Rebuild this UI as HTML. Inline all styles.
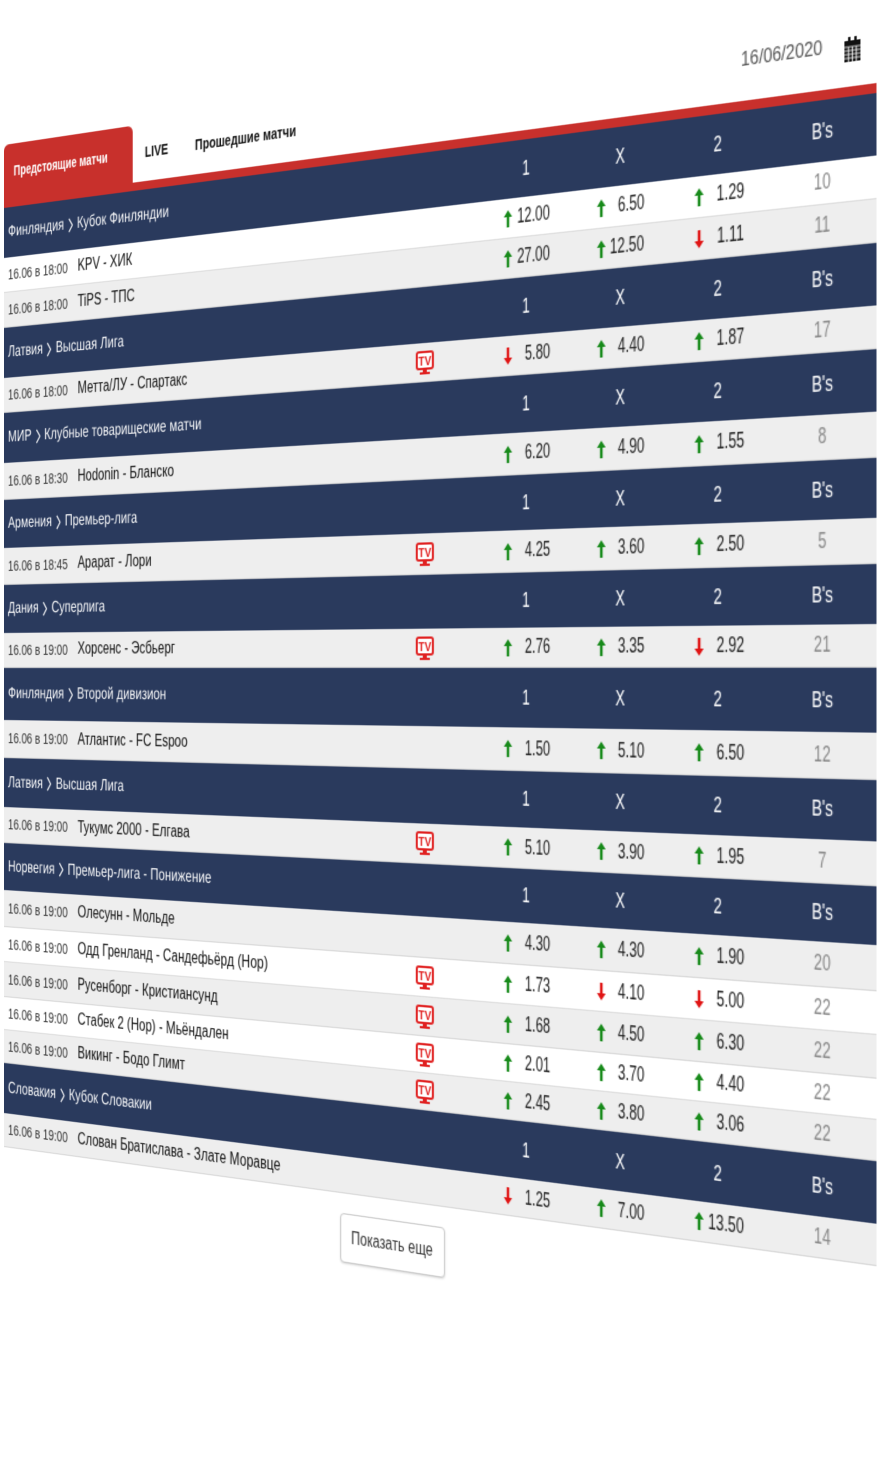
<!DOCTYPE html>
<html><head><meta charset="utf-8">
<style>
html,body{margin:0;padding:0;background:#fff;width:885px;height:1356px;overflow:hidden;}
#stage{position:absolute;left:0;top:0;width:872px;height:1300px;transform-origin:0 0;
transform:matrix3d(0.8,-0.1532,0,-0.000229, 0,1,0,0, 0,0,1,0, 4,0,0,1);
font-family:"Liberation Sans","DejaVu Sans",sans-serif;}
.r{position:absolute;left:0;width:872px;}
.h{background:#2a3a5d;color:#fff;}
.w{background:#fff;border-bottom:1px solid #dcdcdc;box-sizing:border-box;}
.g{background:#eeeeee;border-bottom:1px solid #d6d6d6;box-sizing:border-box;}
.r>*{position:absolute;top:0;height:100%;display:flex;align-items:center;white-space:nowrap;}
.t{left:5px;font-size:15px;color:#333;transform:scaleX(.8);transform-origin:left center;}
.n{left:90px;font-size:16px;color:#111;transform:scaleX(.83);transform-origin:left center;}
.lg{left:5px;font-size:16px;color:#fff;transform:scaleX(.82);transform-origin:left center;}
.lg svg{margin:0 6px 0 6px;}
.o{font-size:19px;color:#222;transform:scaleX(.65);transform-origin:right center;font-style:normal;font-weight:normal;}
.o1{right:282px}.o2{right:196px}.o3{right:109px}
.a{width:8px;}
.a1{left:546px}.a2{left:633px}.a3{left:720px}
.bs{left:798px;width:60px;justify-content:center;font-size:19px;color:#888;font-style:normal;transform:scaleX(.65);}
.hd{font-size:18px;color:#fff;width:40px;justify-content:center;transform:scaleX(.72);}
.h1{left:547px}.h2{left:634px}.h3{left:720px}.h4{left:808px}
.tv{left:460px;}
</style></head><body>
<div id="stage">
  <div style="position:absolute;left:760px;top:156px;font-size:17px;color:#555;white-space:nowrap;transform:scaleX(.8);transform-origin:left center;">16/06/2020</div>
  <svg style="position:absolute;left:846px;top:160px" width="13" height="20" viewBox="0 0 13 20">
    <rect x="0" y="3" width="13" height="17" fill="#111"/>
    <rect x="3" y="0" width="2" height="4" fill="#111"/><rect x="8" y="0" width="2" height="4" fill="#111"/>
    <g stroke="#fff" stroke-width="0.8"><line x1="0" y1="8" x2="13" y2="8"/><line x1="0" y1="11" x2="13" y2="11"/><line x1="0" y1="14" x2="13" y2="14"/><line x1="0" y1="17" x2="13" y2="17"/><line x1="3.3" y1="8" x2="3.3" y2="20"/><line x1="6.5" y1="8" x2="6.5" y2="20"/><line x1="9.7" y1="8" x2="9.7" y2="20"/></g>
  </svg>
  <div style="position:absolute;left:0;top:145px;width:155px;height:63px;background:#c8302c;border-radius:6px 6px 0 0;"></div>
  <div style="position:absolute;left:12px;top:164px;font-size:15px;font-weight:bold;color:#fff;white-space:nowrap;transform:scaleX(.76);transform-origin:left center;">Предстоящие матчи</div>
  <div style="position:absolute;left:169px;top:164px;font-size:15px;font-weight:bold;color:#111;transform:scaleX(.8);transform-origin:left center;">LIVE</div>
  <div style="position:absolute;left:226px;top:164px;font-size:15px;font-weight:bold;color:#111;white-space:nowrap;transform:scaleX(.8);transform-origin:left center;">Прошедшие матчи</div>
  <div style="position:absolute;left:0;top:200px;width:872px;height:8px;background:#c8302c;"></div>

  <div id="rows"></div>

  <div style="position:absolute;left:383px;top:1165px;width:106px;height:45px;border:1px solid #c8c8c8;border-radius:4px;box-sizing:border-box;background:#fff;display:flex;align-items:center;justify-content:center;font-size:16px;color:#333;box-shadow:0 1px 2px rgba(0,0,0,.15);">
    <span style="transform:scaleX(.8);white-space:nowrap;">Показать еще</span></div>
</div>

<script>
var UP='<svg width="8" height="15" viewBox="0 0 8 15"><polygon points="4,0 8,6 5.2,6 5.2,15 2.8,15 2.8,6 0,6" fill="#178a1a"/></svg>';
var DN='<svg width="8" height="15" viewBox="0 0 8 15"><polygon points="4,15 8,9 5.2,9 5.2,0 2.8,0 2.8,9 0,9" fill="#e01414"/></svg>';
var TV='<svg width="18" height="21" viewBox="0 0 18 21"><rect x="1" y="1" width="16" height="15" rx="2" fill="#fff" stroke="#e02020" stroke-width="2"/><text x="9" y="13" font-size="10" font-family="Liberation Sans" fill="#e02020" text-anchor="middle" font-weight="bold">TV</text><rect x="7" y="16" width="4" height="3" fill="#e02020"/><rect x="4" y="19" width="10" height="2" fill="#e02020"/></svg>';
var CH='<svg width="7" height="15" viewBox="0 0 7 15"><polyline points="1,1 6,7.5 1,14" fill="none" stroke="#fff" stroke-width="1.4"/></svg>';
var rows=[
['h',208,50,'Финляндия','Кубок Финляндии'],
['w',258,35,'KPV - ХИК',0,'u12.00','u6.50','u1.29','10'],
['g',293,35,'TiPS - ТПС',0,'u27.00','u12.50','d1.11','11'],
['h',328,50,'Латвия','Высшая Лига'],
['g',378,35,'Метта/ЛУ - Спартакс',1,'d5.80','u4.40','u1.87','17'],
['h',413,50,'МИР','Клубные товарищеские матчи'],
['g',463,37,'Hodonin - Бланско',0,'u6.20','u4.90','u1.55','8'],
['h',500,48,'Армения','Премьер-лига'],
['g',548,37,'Арарат - Лори',1,'u4.25','u3.60','u2.50','5'],
['h',585,48,'Дания','Суперлига'],
['g',633,35,'Хорсенс - Эсбьерг',1,'u2.76','u3.35','d2.92','21'],
['h',668,52,'Финляндия','Второй дивизион'],
['g',720,38,'Атлантис - FC Espoo',0,'u1.50','u5.10','u6.50','12'],
['h',758,49,'Латвия','Высшая Лига'],
['g',807,36,'Тукумс 2000 - Елгава',1,'u5.10','u3.90','u1.95','7'],
['h',843,47,'Норвегия','Премьер-лига - Понижение'],
['g',890,37,'Олесунн - Мольде',0,'u4.30','u4.30','u1.90','20'],
['w',927,35,'Одд Гренланд - Сандефьёрд (Нор)',1,'u1.73','d4.10','d5.00','22'],
['g',962,35,'Русенборг - Кристиансунд',1,'u1.68','u4.50','u6.30','22'],
['w',997,33,'Стабек 2 (Нор) - Мьёндален',1,'u2.01','u3.70','u4.40','22'],
['g',1030,33,'Викинг - Бодо Глимт',1,'u2.45','u3.80','u3.06','22'],
['h',1063,50,'Словакия','Кубок Словакии'],
['g',1113,34,'Слован Братислава - Злате Моравце',0,'d1.25','u7.00','u13.50','14']
];
var time={258:'18:00',293:'18:00',378:'18:00',463:'18:30',548:'18:45'};
var html='';
rows.forEach(function(r){
  var s='<div class="r '+r[0]+'" style="top:'+r[1]+'px;height:'+r[2]+'px">';
  if(r[0]=='h'){
    s+='<span class="lg">'+r[3]+CH+r[4]+'</span>';
    s+='<span class="hd h1">1</span><span class="hd h2">X</span><span class="hd h3">2</span><span class="hd h4">B\'s</span>';
  } else {
    var tm=time[r[1]]||'19:00';
    s+='<span class="t">16.06 в '+tm+'</span><span class="n">'+r[3]+'</span>';
    if(r[4]) s+='<span class="tv">'+TV+'</span>';
    for(var i=0;i<3;i++){
      var o=r[5+i];
      s+='<span class="a a'+(i+1)+'">'+(o[0]=='u'?UP:DN)+'</span>';
      s+='<b class="o o'+(i+1)+'">'+o.slice(1)+'</b>';
    }
    s+='<em class="bs">'+r[8]+'</em>';
  }
  s+='</div>';
  html+=s;
});
document.getElementById('rows').outerHTML=html;
</script>
</body></html>
